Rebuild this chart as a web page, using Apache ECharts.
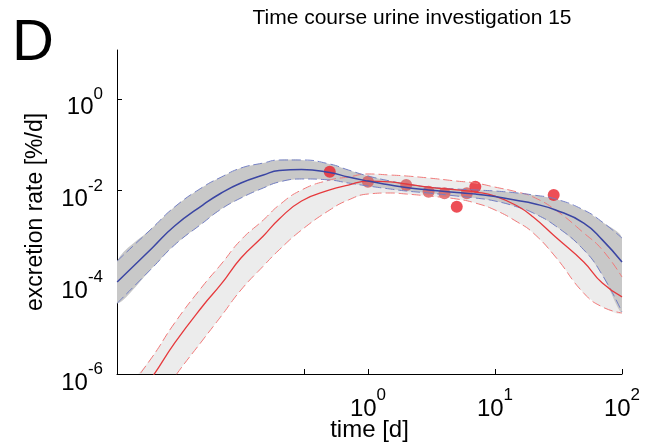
<!DOCTYPE html>
<html>
<head>
<meta charset="utf-8">
<script src="https://cdn.jsdelivr.net/npm/echarts@6/dist/echarts.min.js"></script>
<style>
  html, body { margin: 0; padding: 0; background: #fff; }
  #chart { width: 648px; height: 445px; }
</style>
</head>
<body>
<div id="chart"></div>
<script>
// sample times of the model curves [d]
const times = [0.0106, 0.02, 0.03, 0.05, 0.07, 0.1, 0.15, 0.2, 0.3, 0.5, 0.7, 1, 1.5, 2, 3, 5, 7, 10, 15, 20, 30, 50, 70, 100];

// model 1 (blue): median and band [%/d]
const blueMid = [1.01e-4, 5.6e-4, 1.69e-3, 4.84e-3, 8.85e-3, 0.0146, 0.0218, 0.0274, 0.0288, 0.0248, 0.0197, 0.0161, 0.0132, 0.0116, 0.0103, 0.00906, 0.00841, 0.00741, 0.00607, 0.00522, 0.00377, 0.00196, 8.4e-4, 2.77e-4];
const blueHi = [2.91e-4, 1.52e-3, 4.38e-3, 0.0119, 0.0197, 0.0310, 0.0399, 0.0464, 0.0464, 0.0379, 0.0281, 0.0208, 0.0161, 0.0139, 0.0119, 0.0108, 0.0103, 0.00977, 0.00885, 0.00800, 0.00655, 0.00377, 0.00206, 9.2e-4];
const blueLo = [3.5e-5, 2.05e-4, 6.5e-4, 1.96e-3, 3.96e-3, 6.89e-3, 0.0114, 0.0154, 0.0179, 0.0170, 0.0146, 0.0126, 0.0108, 0.00977, 0.00885, 0.00760, 0.00689, 0.00592, 0.00438, 0.00324, 0.00169, 5.1e-4, 1.44e-4, 2.25e-5];

// model 2 (red): median and band [%/d]
const redMid = [8.1e-8, 8.6e-7, 4.7e-6, 3.04e-5, 9.2e-5, 3.38e-4, 1.02e-3, 2.40e-3, 5.92e-3, 0.0103, 0.0132, 0.0161, 0.0154, 0.0139, 0.0119, 0.0103, 0.00929, 0.00760, 0.00460, 0.00265, 9.7e-4, 2.77e-4, 9.6e-5, 4.8e-5];
const redHi = [2.2e-7, 2.34e-6, 1.29e-5, 8.3e-5, 2.50e-4, 8.4e-4, 2.28e-3, 4.84e-3, 0.0103, 0.0170, 0.0197, 0.0230, 0.0218, 0.0208, 0.0188, 0.0161, 0.0146, 0.0119, 0.00929, 0.00723, 0.00377, 0.00119, 5.1e-4, 1.30e-4];
const redLo = [1.33e-8, 1.64e-7, 8.6e-7, 5.5e-6, 1.84e-5, 6.8e-5, 2.26e-4, 5.1e-4, 1.38e-3, 3.77e-3, 6.22e-3, 8.41e-3, 8.85e-3, 8.41e-3, 7.60e-3, 6.55e-3, 5.35e-3, 3.77e-3, 2.06e-3, 1.19e-3, 3.56e-4, 5.8e-5, 2.9e-5, 2.14e-5];

// measured urine excretion: points drawn clear / points lying under the band
const obsTimeA = [0.5, 5, 7, 29];
const obsRateA = [0.0258, 0.00445, 0.0121, 0.0080];
const obsTimeB = [1, 2, 3, 4, 6];
const obsRateB = [0.0156, 0.0132, 0.00944, 0.00871, 0.00871];

// axis ticks (decade exponents)
const xTicks = [-0.5, 0, 1, 2];
const xLabels = [0, 1, 2];
const yTicks = [-6, -4, -2, 0];

const lg = Math.log10;
const FONT = 'Liberation Sans';

function pts(ts, vs) {
  return ts.map((t, i) => [lg(t), lg(vs[i])]);
}

// filled band between lo and hi, drawn as one polygon on the grid scales
function band(lo, hi, color) {
  return {
    type: 'custom', clip: true, silent: true, data: [[0, 0]],
    renderItem: (params, api) => {
      const upper = times.map((t, i) => api.coord([lg(t), lg(hi[i])]));
      const lower = times.map((t, i) => api.coord([lg(t), lg(lo[i])])).reverse();
      return {
        type: 'polygon',
        shape: { points: upper.concat(lower), smooth: 0.3 },
        style: { fill: color }
      };
    }
  };
}

function curve(vs, color, width, type) {
  return {
    type: 'line', data: pts(times, vs), symbol: 'none', smooth: true, silent: true,
    lineStyle: { color: color, width: width, type: type }
  };
}

const sup = v => '{b|10}{s|' + Math.round(v) + '}';
const rich = {
  b: { fontFamily: FONT, fontSize: 24, color: '#000', lineHeight: 34, verticalAlign: 'bottom' },
  s: { fontFamily: FONT, fontSize: 17, color: '#000', lineHeight: 18, verticalAlign: 'top' }
};

const chart = echarts.init(document.getElementById('chart'));
chart.setOption({
  animation: false,
  backgroundColor: '#fff',
  graphic: [
    { type: 'text', x: 12, y: 15, style: { text: 'D', font: '58px "Liberation Sans"', fill: '#000' } },
    { type: 'text', x: 412, y: 8, style: { text: 'Time course urine investigation 15', font: '21px "Liberation Sans"', fill: '#000', textAlign: 'center' } }
  ],
  grid: { left: 117, right: 26, top: 50, bottom: 71, containLabel: false, outerBoundsMode: 'none' },
  xAxis: {
    type: 'value', min: -1.976, max: 2,
    name: 'time [d]', nameLocation: 'middle', nameGap: 44, nameMoveOverlap: false,
    nameTextStyle: { fontFamily: FONT, fontSize: 24, color: '#000' },
    axisLine: { show: true, onZero: false, lineStyle: { color: '#000', width: 1 } },
    axisTick: { show: true, inside: true, length: 5, customValues: xTicks, lineStyle: { color: '#000' } },
    axisLabel: { customValues: xLabels, margin: 13, formatter: sup, rich: rich },
    splitLine: { show: false }
  },
  yAxis: {
    type: 'value', min: -6, max: 1.065,
    name: 'excretion rate [%/d]', nameLocation: 'middle', nameGap: 70, nameRotate: 90, nameMoveOverlap: false,
    nameTextStyle: { fontFamily: FONT, fontSize: 23, color: '#000' },
    axisLine: { show: true, onZero: false, lineStyle: { color: '#000', width: 1 } },
    axisTick: { show: true, inside: true, length: 5, customValues: yTicks, lineStyle: { color: '#000' } },
    axisLabel: { customValues: yTicks, margin: 14, formatter: sup, rich: rich, padding: [8, 0, 0, 0] },
    splitLine: { show: false }
  },
  series: [
    band(redLo, redHi, '#ececec'),
    band(blueLo, blueHi, '#c8c8c8'),
    curve(redHi, '#f07a7a', 1, [9, 4]),
    curve(redLo, '#f07a7a', 1, [9, 4]),
    curve(blueHi, '#7480c4', 1, [9, 4]),
    curve(blueLo, '#7480c4', 1, [9, 4]),
    curve(redMid, '#e6393c', 1.3, 'solid'),
    curve(blueMid, '#3a45a3', 1.5, 'solid'),
    {
      type: 'scatter', data: pts(obsTimeB, obsRateB), symbolSize: 12, silent: true,
      itemStyle: { color: '#d65a5c' }
    },
    {
      type: 'scatter', data: pts(obsTimeA, obsRateA), symbolSize: 12, silent: true,
      itemStyle: { color: '#e8222c' }
    }
  ]
});
</script>
</body>
</html>
